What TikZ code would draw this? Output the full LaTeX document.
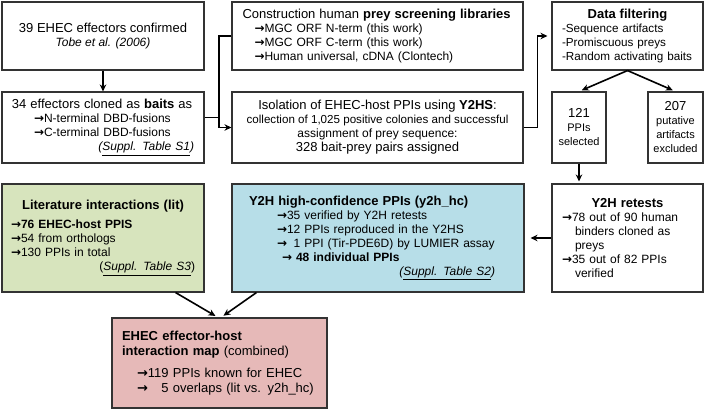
\documentclass[tikz,border=0pt]{standalone}
\usepackage{fontspec}
\setmainfont{Liberation Sans}
\newfontfamily\arrowfont{DejaVu Sans}
\usetikzlibrary{arrows.meta}

\definecolor{litgreen}{HTML}{D7E4BD}
\definecolor{hcblue}{HTML}{B7DEE8}
\definecolor{mappink}{HTML}{E6B9B8}

\newcommand{\toarr}{{\arrowfont\bfseries\char"2192}}
\newcommand{\tsz}{\fontsize{13}{15}\selectfont}
\newcommand{\ssz}{\fontsize{11}{13}\selectfont}

\begin{document}
\begin{tikzpicture}[x=1pt,y=-1pt,
    stage/.style={draw=black!80,line width=1.1pt,inner sep=0pt,
      font=\fontsize{12}{14}\selectfont},
    conn/.style={line width=1.6pt},
    arr/.style={conn,-{Stealth[length=7pt,width=6.5pt]}}]
  \useasboundingbox (0,0) rectangle (704,409);

  % Screening set-up
  \node[stage,minimum width=202pt,minimum height=68pt,align=center] (effectors) at (103,36)
    {{\tsz 39 EHEC effectors confirmed}\\ {\itshape Tobe et al. (2006)}};
  \node[stage,minimum width=202pt,minimum height=71pt,text width=182pt,align=left] (baits) at (103,127.5)
    {{\tsz 34 effectors cloned as \textbf{baits} as}\\
     \hspace*{22pt}\toarr N-terminal DBD-fusions\\
     \hspace*{22pt}\toarr C-terminal DBD-fusions\\
     \makebox[182pt][r]{\itshape(\underline{Suppl. Table S1})}};
  \node[stage,minimum width=291pt,minimum height=68pt,text width=270pt,align=left] (libs) at (377.5,36)
    {{\tsz Construction human \textbf{prey screening libraries}}\\
     \hspace*{12pt}\toarr MGC ORF N-term (this work)\\
     \hspace*{12pt}\toarr MGC ORF C-term (this work)\\
     \hspace*{12pt}\toarr Human universal, cDNA (Clontech)};
  \node[stage,minimum width=291pt,minimum height=71pt,align=center] (isolation) at (377.5,127.5)
    {{\tsz Isolation of EHEC-host PPIs using \textbf{Y2HS}:}\\
     {\fontsize{11.6}{14}\selectfont collection of 1,025 positive colonies and successful}\\
     assignment of prey sequence:\\
     {\tsz 328 bait-prey pairs assigned}};

  % Filtering and retests
  \node[stage,minimum width=151pt,minimum height=68pt,text width=135pt,align=left,
        font=\fontsize{11.7}{14}\selectfont] (filter) at (627.5,36)
    {\makebox[135pt]{\tsz\bfseries Data filtering}\\
     \hspace*{2pt}-Sequence artifacts\\ \hspace*{2pt}-Promiscuous preys\\ \hspace*{2pt}-Random activating baits};
  \node[stage,minimum width=54pt,minimum height=71pt,align=center] (selected) at (579,127.5)
    {{\tsz 121}\\ {\ssz PPIs}\\ {\ssz selected}};
  \node[stage,minimum width=55pt,minimum height=71pt,align=center] (excluded) at (675.5,127.5)
    {{\tsz 207}\\ {\ssz putative}\\ {\ssz artifacts}\\ {\ssz excluded}};
  \node[stage,minimum width=151pt,minimum height=108pt,text width=131pt,align=left] (retests) at (627.5,238)
    {\makebox[131pt]{\tsz\bfseries Y2H retests}\\
     \toarr 78 out of 90 human\\
     \hspace*{13pt}binders cloned as\\
     \hspace*{13pt}preys\\
     \toarr 35 out of 82 PPIs\\
     \hspace*{13pt}verified};

  % Interaction sets
  \node[stage,fill=litgreen,minimum width=202pt,minimum height=108pt,text width=184pt,align=left] (lit) at (103,238)
    {\makebox[184pt]{\tsz\bfseries Literature interactions (lit)}\\[5pt]
     \textbf{\toarr 76 EHEC-host PPIS}\\
     \toarr 54 from orthologs\\
     \toarr 130 PPIs in total\\
     \makebox[184pt][r]{(\textit{\underline{Suppl. Table S3}})}};
  \node[stage,fill=hcblue,minimum width=292pt,minimum height=108pt,text width=258pt,align=left] (hc) at (378,238)
    {{\tsz\bfseries Y2H high-confidence PPIs (y2h\_hc)}\\
     \hspace*{28pt}\toarr 35 verified by Y2H retests\\
     \hspace*{28pt}\toarr 12 PPIs reproduced in the Y2HS\\
     \hspace*{28pt}\toarr\phantom{3}1 PPI (Tir-PDE6D) by LUMIER assay\\
     \hspace*{33pt}\textbf{\toarr\ 48 individual PPIs}\\
     \makebox[258pt][r]{\itshape(\underline{Suppl. Table S2})\hspace*{12pt}}};
  \node[stage,fill=mappink,minimum width=215pt,minimum height=90pt,text width=195pt,align=left,font=\fontsize{13}{15}\selectfont] (map) at (219.5,363)
    {\textbf{EHEC effector-host}\\
     \textbf{interaction map} (combined)\\[7pt]
     \hspace*{15pt}\toarr 119 PPIs known for EHEC\\
     \hspace*{15pt}\toarr\phantom{11}5 overlaps (lit vs. y2h\_hc)};

  % Connectors
  \draw[arr] (effectors) -- (baits);
  \coordinate (join) at (219,127.5);
  \coordinate (baitsout) at ([yshift=10pt]baits.east);
  \draw[arr] (libs.west) -| (join) -- (isolation.west);
  \draw[conn] (baitsout) -- (baitsout -| join);
  \draw[arr,shorten >=4pt] (isolation.east) -- ++(14,0) |- (filter.west);
  \draw[arr,shorten >=3pt] (filter.south) -- (selected.north);
  \draw[arr,shorten >=3pt] (filter.south) -- (excluded.north);
  \draw[arr,shorten >=2pt] (selected.south) -- (selected.south |- retests.north);
  \draw[arr,shorten >=6pt] (retests.west) -- (hc.east);
  \draw[arr,shorten >=3pt] ([xshift=-29pt]lit.south east) -- ([xshift=-1.5pt]map.north);
  \draw[arr,shorten >=3pt] ([xshift=25pt]hc.south west) -- ([xshift=1.5pt]map.north);
\end{tikzpicture}
\end{document}
